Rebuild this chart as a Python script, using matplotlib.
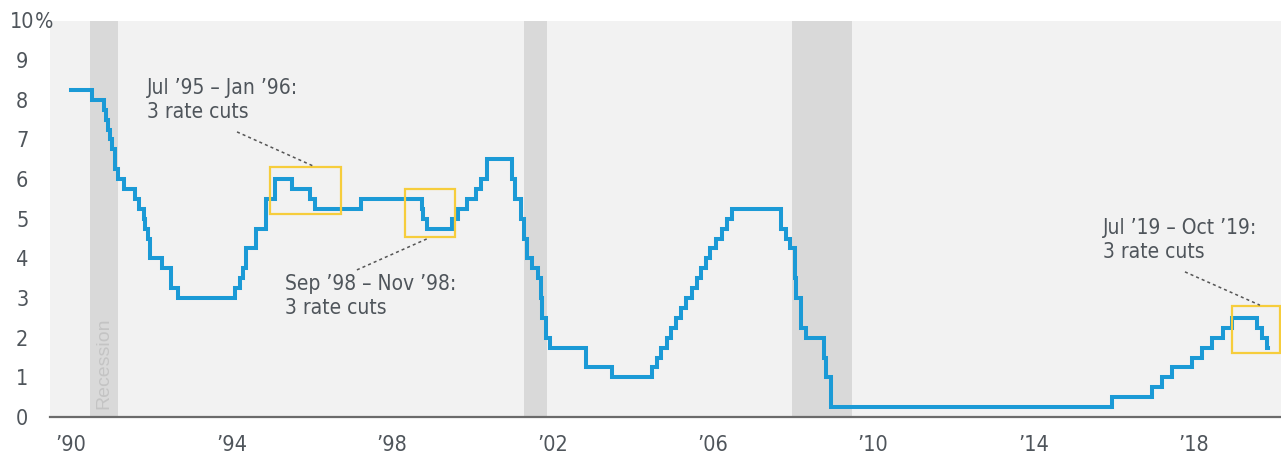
import pandas as pd
import matplotlib
matplotlib.use('Agg')
import matplotlib.pyplot as plt
from matplotlib import font_manager as fm
from matplotlib.patches import Rectangle

# fed funds target rate (upper bound), change dates and new levels
dates = ['1990-01-01', '1990-07-13', '1990-10-29', '1990-11-13', '1990-12-07', '1990-12-18',
         '1991-01-08', '1991-02-01', '1991-03-08', '1991-04-30', '1991-08-06', '1991-09-13',
         '1991-10-31', '1991-11-06', '1991-12-06', '1991-12-20', '1992-04-09', '1992-07-02',
         '1992-09-04', '1994-02-04', '1994-03-22', '1994-04-18', '1994-05-17', '1994-08-16',
         '1994-11-15', '1995-02-01', '1995-07-06', '1995-12-19', '1996-01-31', '1997-03-25',
         '1998-09-29', '1998-10-15', '1998-11-17', '1999-06-30', '1999-08-24', '1999-11-16',
         '2000-02-02', '2000-03-21', '2000-05-16', '2001-01-03', '2001-01-31', '2001-03-20',
         '2001-04-18', '2001-05-15', '2001-06-27', '2001-08-21', '2001-09-17', '2001-10-02',
         '2001-11-06', '2001-12-11', '2002-11-06', '2003-06-25', '2004-06-30', '2004-08-10',
         '2004-09-21', '2004-11-10', '2004-12-14', '2005-02-02', '2005-03-22', '2005-05-03',
         '2005-06-30', '2005-08-09', '2005-09-20', '2005-11-01', '2005-12-13', '2006-01-31',
         '2006-03-28', '2006-05-10', '2006-06-29', '2007-09-18', '2007-10-31', '2007-12-11',
         '2008-01-22', '2008-01-30', '2008-03-18', '2008-04-30', '2008-10-08', '2008-10-29',
         '2008-12-16', '2015-12-16', '2016-12-14', '2017-03-15', '2017-06-14', '2017-12-13',
         '2018-03-21', '2018-06-13', '2018-09-26', '2018-12-19', '2019-07-31', '2019-09-18',
         '2019-10-30', '2019-11-05']
rates = [8.25, 8.00, 7.75, 7.50, 7.25, 7.00,
         6.75, 6.25, 6.00, 5.75, 5.50, 5.25,
         5.00, 4.75, 4.50, 4.00, 3.75, 3.25,
         3.00, 3.25, 3.50, 3.75, 4.25, 4.75,
         5.50, 6.00, 5.75, 5.50, 5.25, 5.50,
         5.25, 5.00, 4.75, 5.00, 5.25, 5.50,
         5.75, 6.00, 6.50, 6.00, 5.50, 5.00,
         4.50, 4.00, 3.75, 3.50, 3.00, 2.50,
         2.00, 1.75, 1.25, 1.00, 1.25, 1.50,
         1.75, 2.00, 2.25, 2.50, 2.75, 3.00,
         3.25, 3.50, 3.75, 4.00, 4.25, 4.50,
         4.75, 5.00, 5.25, 4.75, 4.50, 4.25,
         3.50, 3.00, 2.25, 2.00, 1.50, 1.00,
         0.25, 0.50, 0.75, 1.00, 1.25, 1.50,
         1.75, 2.00, 2.25, 2.50, 2.25, 2.00,
         1.75, 1.75]

recessions = [(1990.47, 1991.17), (2001.30, 2001.87), (2007.98, 2009.47)]

# highlighted cut periods: (x0, x1, y0, y1)
boxes = [(1994.96, 1996.73, 5.12, 6.30),
         (1998.33, 1999.58, 4.54, 5.75),
         (2018.95, 2020.15, 1.61, 2.80)]
notes = ['Jul \u201995 \u2013 Jan \u201996:\n3 rate cuts',
         'Sep \u201998 \u2013 Nov \u201998:\n3 rate cuts',
         'Jul \u201919 \u2013 Oct \u201919:\n3 rate cuts']
note_xy = [(1991.9, 7.99), (1995.34, 3.04), (2015.74, 4.46)]
leaders = [((1994.14, 7.19), (1996.04, 6.33)),
           ((1997.13, 3.71), (1998.87, 4.49)),
           ((2017.78, 3.66), (2019.65, 2.82))]

tick_years = [1990, 1994, 1998, 2002, 2006, 2010, 2014, 2018]
tick_labels = ['\u2019' + str(y)[2:] for y in tick_years]

d = pd.to_datetime(dates)
t = d.year + (d.dayofyear - 1) / 365.25

# look for a narrow sans if one is around, else fall back to Roboto
narrow = None
for f in fm.fontManager.ttflist:
    if f.style != 'normal' or f.weight not in (400, 'normal', 'regular'):
        continue
    if 'Narrow' in f.name or 'Condensed' in f.name or f.stretch in ('condensed', 'semi-condensed'):
        narrow = f.fname
        break

if narrow:
    def fp(size):
        return fm.FontProperties(fname=narrow, size=size)
    SZ = 15
else:
    def fp(size):
        return fm.FontProperties(family='Roboto', size=size)
    SZ = 14.5

TXT = '#4f555b'

fig = plt.figure(figsize=(12.81, 4.57), dpi=100)
ax = fig.add_axes([50 / 1281, 40 / 457, 1231 / 1281, 396.5 / 457])
ax.set_facecolor('#f2f2f2')

for r0, r1 in recessions:
    ax.axvspan(r0, r1, color='#d9d9d9', lw=0, zorder=1)
ax.text(1990.82, 0.2, 'Recession', rotation=90, ha='center', va='bottom',
        fontsize=14, color='#c4c4c4', family=['Liberation Sans', 'DejaVu Sans'], zorder=2)

ax.step(t, rates, where='post', color='#1b9ad6', lw=2.9, solid_joinstyle='miter', zorder=3)

for x0, x1, y0, y1 in boxes:
    ax.add_patch(Rectangle((x0, y0), x1 - x0, y1 - y0, fill=False,
                           ec='#f6cd3c', lw=1.6, zorder=4, clip_on=False))
for (a, b) in leaders:
    ax.plot([a[0], b[0]], [a[1], b[1]], color='#555555', lw=1.1, ls=(0, (2, 2)), zorder=4)
for s, (x, y) in zip(notes, note_xy):
    ax.text(x, y, s, ha='left', va='center', fontproperties=fp(SZ), color=TXT,
            linespacing=1.25, zorder=5)

ax.set_xlim(1989.476, 2020.175)
ax.set_ylim(0, 10)
ax.set_xticks(tick_years)
ax.set_xticklabels(tick_labels, fontproperties=fp(SZ + 0.5), color=TXT)
ax.set_yticks(range(11))
ax.set_yticklabels([str(i) for i in range(11)], fontproperties=fp(SZ + 0.5), color=TXT, ha='center')
ax.tick_params(axis='x', length=0, pad=13)
ax.tick_params(axis='y', length=0, pad=20)

for s in ['top', 'right', 'left']:
    ax.spines[s].set_visible(False)
ax.spines['bottom'].set_color('#6b6b6b')
ax.spines['bottom'].set_linewidth(1.6)
ax.spines['bottom'].set_zorder(6)

# percent sign hangs off the right of the top label
fig.canvas.draw()
bb = ax.get_yticklabels()[-1].get_window_extent()
fig.text(bb.x1 / 1281, (bb.y0 + bb.y1) / 2 / 457, '%', ha='left', va='center',
         fontproperties=fp(SZ + 0.5), color=TXT)

fig.savefig('out.png', dpi=100)
